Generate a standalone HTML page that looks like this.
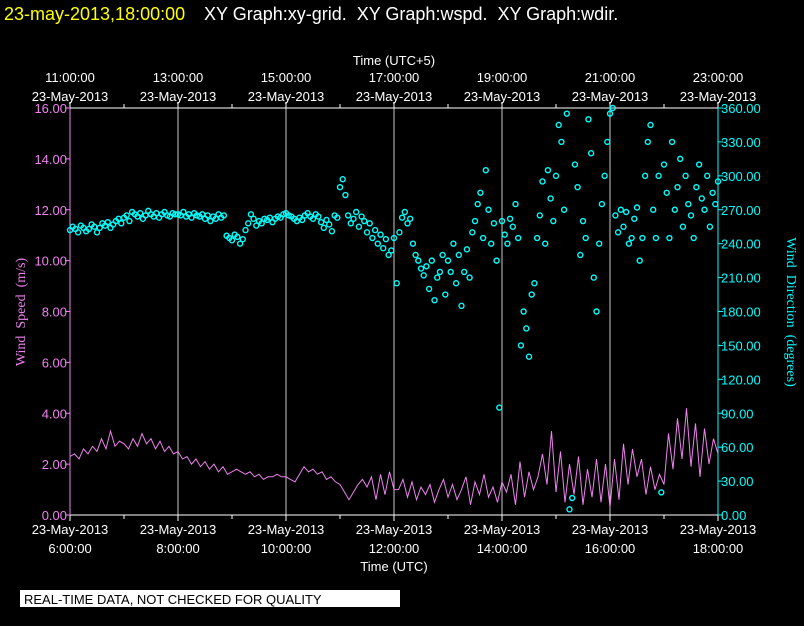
<!DOCTYPE html>
<html><head><meta charset="utf-8">
<style>
html,body{margin:0;padding:0;background:#000;width:804px;height:626px;overflow:hidden}
svg{display:block}
text{font-family:"Liberation Sans",sans-serif}
</style></head>
<body>
<svg id="c" width="804" height="626" xmlns="http://www.w3.org/2000/svg">
<text x="4" y="20" font-size="18" fill="#ffff00">23-may-2013,18:00:00</text>
<text x="204" y="20" font-size="18" fill="#fff" style="white-space:pre">XY Graph:xy-grid.  XY Graph:wspd.  XY Graph:wdir.</text>
<text x="394" y="65" font-size="13" fill="#fff" text-anchor="middle">Time (UTC+5)</text>
<text x="394" y="571" font-size="13" fill="#fff" text-anchor="middle">Time (UTC)</text>
<text transform="translate(25,312) rotate(-90)" font-size="14" fill="#ee82ee" text-anchor="middle" style="font-family:'Liberation Serif',serif;white-space:pre">Wind  Speed  (m/s)</text>
<text transform="translate(787,312) rotate(90)" font-size="14" fill="#00ffff" text-anchor="middle" style="font-family:'Liberation Serif',serif;white-space:pre">Wind  Direction  (degrees)</text>
<rect x="20" y="590" width="380" height="17" fill="#fff"/>
<text x="24" y="604" font-size="13" fill="#000">REAL-TIME DATA, NOT CHECKED FOR QUALITY</text>
<g id="g"></g>
</svg>
<script>
const bottomTicks=["6:00:00","8:00:00","10:00:00","12:00:00","14:00:00","16:00:00","18:00:00"];
const topTicks=["11:00:00","13:00:00","15:00:00","17:00:00","19:00:00","21:00:00","23:00:00"];
const speedTicks=[0,2,4,6,8,10,12,14,16];
const dirTicks=[0,30,60,90,120,150,180,210,240,270,300,330,360];
// wind speed every 5 min from 6:00 UTC
const speed=[2.3,2.4,2.2,2.6,2.4,2.7,2.5,3.0,2.6,3.3,2.7,2.9,2.8,
2.6,3.0,2.7,3.2,2.8,3.0,2.6,2.9,2.5,2.7,2.4,2.5,
2.2,2.3,2.0,2.2,1.9,2.1,1.8,2.0,1.7,1.9,1.6,1.7,
1.8,1.7,1.6,1.7,1.5,1.6,1.4,1.5,1.5,1.6,1.5,1.5,
1.4,1.3,1.6,1.9,1.7,1.8,1.6,1.7,1.4,1.5,1.3,1.2,
0.9,0.6,0.9,1.2,1.4,1.1,1.5,0.6,1.6,0.8,1.7,1.0,
1.0,1.4,0.7,1.3,0.6,1.1,0.8,1.2,0.5,1.0,1.4,0.7,
1.2,0.6,1.0,1.5,0.4,1.3,0.8,1.6,0.7,1.1,0.5,1.3,
0.9,1.6,0.4,2.1,0.7,1.7,1.0,1.5,2.4,1.2,3.3,0.9,
2.5,0.5,2.0,0.8,2.3,0.4,1.8,0.7,2.2,0.5,2.0,0.3,
2.2,0.6,2.8,1.2,2.6,1.5,2.2,0.8,1.9,1.0,1.6,1.2,
3.2,1.8,3.8,2.2,4.2,1.9,3.6,1.5,3.4,2.0,3.0,2.4];
// wind direction every 3 min from 6:00 UTC
const direction=[252,255,253,250,256,254,251,253,257,255,250,254,258,256,259,254,257,260,262,258,
263,265,260,268,266,264,267,262,265,269,266,264,267,263,266,268,265,264,267,266,
266,265,268,264,266,263,267,265,264,266,262,265,260,264,262,266,263,265,247,245,
243,248,246,240,244,252,258,266,262,256,260,258,262,261,263,259,262,264,263,266,
267,265,264,262,260,263,261,265,267,264,262,266,264,259,254,261,257,251,265,263,
290,297,283,265,258,262,268,255,264,260,250,258,245,252,240,248,236,244,230,234,
245,205,250,263,268,258,262,240,230,225,218,212,220,200,225,190,210,215,230,195,
225,215,240,205,230,185,215,235,210,250,260,275,285,245,305,270,240,258,225,95,
260,248,240,262,255,275,245,150,180,165,140,195,205,245,265,295,240,305,280,260,
300,345,330,270,355,5,15,310,290,230,260,245,350,320,210,180,240,275,300,330,
355,360,265,250,270,255,268,240,245,262,272,225,245,300,330,345,270,245,300,20,
310,285,245,330,270,290,315,255,300,275,265,245,290,310,280,270,300,255,285,275,295];

const L=70,R=718,T=108,B=515;
const xs=m=>L+(R-L)*m/720;
const ys=v=>B-(B-T)*v/16;
const yd=d=>B-(B-T)*d/360;
const g=document.getElementById('g');
const NS="http://www.w3.org/2000/svg";
function mk(t,a){const e=document.createElementNS(NS,t);for(const k in a)e.setAttribute(k,a[k]);g.appendChild(e);return e;}

for(let i=1;i<6;i++){const e=mk('line',{x1:xs(i*120),x2:xs(i*120),y1:T,y2:B,stroke:'#c8c8c8','stroke-width':1});

}
let e;
e=mk('line',{x1:L,x2:R,y1:T,y2:T,stroke:'#fff'});


e=mk('line',{x1:L,x2:R,y1:B,y2:B,stroke:'#fff'});


e=mk('line',{x1:L,x2:L,y1:T,y2:B,stroke:'#ee82ee'});


e=mk('line',{x1:R,x2:R,y1:T,y2:B,stroke:'#00ffff'});



for(let h=0;h<=12;h++){const x=xs(h*60);const len=h%2?4:6;
mk('line',{x1:x,x2:x,y1:B,y2:B+len,stroke:'#fff'});
mk('line',{x1:x,x2:x,y1:T,y2:T-len,stroke:'#fff'});}
bottomTicks.forEach((t,i)=>{const x=xs(i*120);
let a=mk('text',{x:x,y:534,'font-size':13,fill:'#fff','text-anchor':'middle'});a.textContent='23-May-2013';


let b=mk('text',{x:x,y:553,'font-size':13,fill:'#fff','text-anchor':'middle'});b.textContent=t;

});
topTicks.forEach((t,i)=>{const x=xs(i*120);
let a=mk('text',{x:x,y:82,'font-size':13,fill:'#fff','text-anchor':'middle'});a.textContent=t;


let b=mk('text',{x:x,y:101,'font-size':13,fill:'#fff','text-anchor':'middle'});b.textContent='23-May-2013';

});
speedTicks.forEach(v=>{const y=ys(v);mk('line',{x1:L-5,x2:L,y1:y,y2:y,stroke:'#ee82ee'});
let a=mk('text',{x:L-3,y:y+5,'font-size':13,fill:'#ee82ee','text-anchor':'end'});a.textContent=v.toFixed(2);

});
dirTicks.forEach(v=>{const y=yd(v);mk('line',{x1:R,x2:R+5,y1:y,y2:y,stroke:'#00ffff'});
let a=mk('text',{x:R+3,y:y+5,'font-size':13,fill:'#00ffff'});a.textContent=v.toFixed(2);

});

const pts=speed.map((v,i)=>xs(i*5).toFixed(1)+','+ys(v).toFixed(1)).join(' ');
const pl=mk('polyline',{points:pts,fill:'none',stroke:'#ee82ee','stroke-width':1});


direction.forEach((d,i)=>{const c=mk('circle',{cx:xs(i*3),cy:yd(d),r:2.5,fill:'none',stroke:'#00ffff','stroke-width':1.4});

});
</script>
</body></html>
